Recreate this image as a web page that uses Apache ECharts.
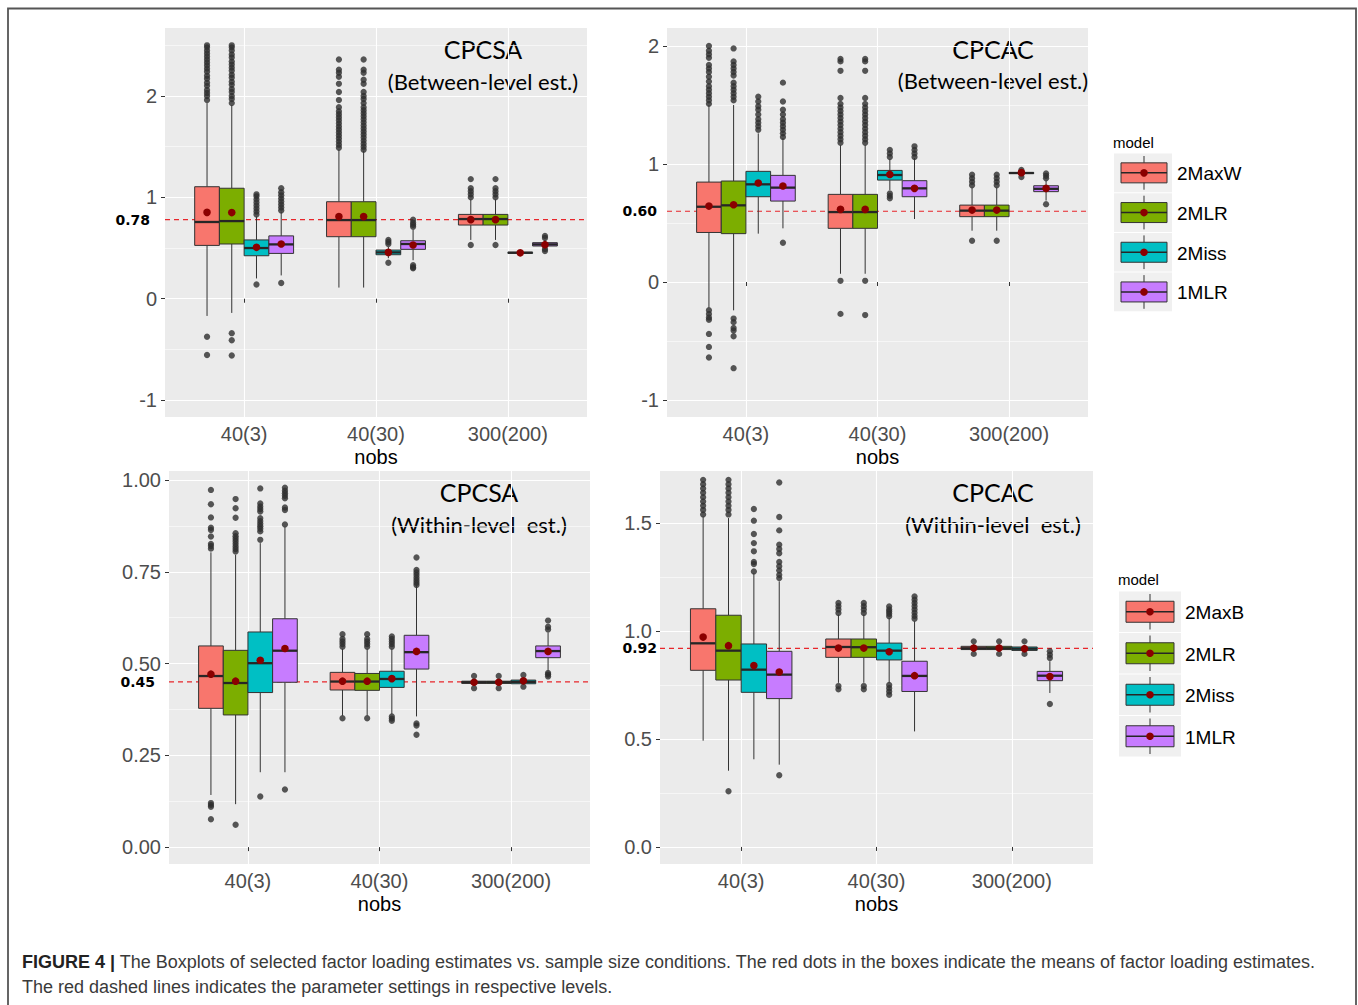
<!DOCTYPE html>
<html><head><meta charset="utf-8">
<script src="https://cdn.jsdelivr.net/npm/echarts@6/dist/echarts.min.js"></script>
<style>html,body{margin:0;padding:0;background:#fff}#c{width:1358px;height:1005px}</style>
</head><body><div id="c"></div>
<script>
// ---------------- DATA ----------------
const categories = ['40(3)', '40(30)', '300(200)'];
const modelsBetween = ['2MaxW', '2MLR', '2Miss', '1MLR'];
const modelsWithin = ['2MaxB', '2MLR', '2Miss', '1MLR'];
const panelTitles = ['CPCSA', 'CPCAC', 'CPCSA', 'CPCAC'];
const panelSubtitles = ['(Between-level est.)', '(Between-level est.)', '(Within-level  est.)', '(Within-level  est.)'];
const refValues = [0.78, 0.60, 0.45, 0.92];

// y-axis tick labels per panel
const yTicksP1 = [-1, 0, 1, 2];
const yTicksP2 = [-1, 0, 1, 2];
const yTicksP3 = [0, 0.25, 0.5, 0.75, 1];
const yTicksP4 = [0, 0.5, 1, 1.5];
const yMinorP1 = [-0.5, 0.5, 1.5, 2.5];
const yMinorP2 = [-0.5, 0.5, 1.5];
const yMinorP3 = [0.125, 0.375, 0.625, 0.875];
const yMinorP4 = [0.25, 0.75, 1.25];

// box stats per model (rows) per category: [lowWhisker, Q1, median, Q3, highWhisker, mean]
const statsP1 = [
  [[-0.17, 0.526, 0.757, 1.105, 1.93, 0.852], [0.11, 0.612, 0.776, 0.957, 1.47, 0.81], [0.58, 0.727, 0.786, 0.832, 0.98, 0.78]],
  [[-0.14, 0.54, 0.766, 1.09, 1.91, 0.85], [0.11, 0.612, 0.776, 0.957, 1.46, 0.81], [0.58, 0.727, 0.786, 0.832, 0.98, 0.78]],
  [[0.2, 0.424, 0.5, 0.58, 0.81, 0.507], [0.4, 0.434, 0.457, 0.48, 0.51, 0.457], [0.447, 0.45, 0.454, 0.458, 0.461, 0.453]],
  [[0.23, 0.447, 0.536, 0.62, 0.86, 0.54], [0.38, 0.487, 0.54, 0.572, 0.68, 0.53], [0.5, 0.52, 0.536, 0.553, 0.58, 0.533]]
];
const statsP2 = [
  [[-0.22, 0.42, 0.638, 0.847, 1.5, 0.644], [0.07, 0.455, 0.593, 0.743, 1.16, 0.616], [0.435, 0.554, 0.605, 0.652, 0.8, 0.61]],
  [[-0.24, 0.41, 0.65, 0.856, 1.5, 0.655], [0.07, 0.455, 0.593, 0.743, 1.16, 0.616], [0.435, 0.554, 0.605, 0.652, 0.8, 0.61]],
  [[0.41, 0.723, 0.828, 0.938, 1.26, 0.839], [0.78, 0.864, 0.907, 0.946, 1.04, 0.912], [0.91, 0.92, 0.924, 0.928, 0.94, 0.927]],
  [[0.455, 0.686, 0.8, 0.904, 1.22, 0.814], [0.534, 0.723, 0.794, 0.859, 1.05, 0.794], [0.69, 0.766, 0.79, 0.816, 0.86, 0.794]]
];
const statsP3 = [
  [[0.142, 0.378, 0.466, 0.548, 0.803, 0.471], [0.358, 0.428, 0.451, 0.476, 0.54, 0.452], [0.44, 0.446, 0.449, 0.452, 0.456, 0.449]],
  [[0.117, 0.36, 0.447, 0.536, 0.796, 0.452], [0.358, 0.427, 0.451, 0.473, 0.54, 0.452], [0.44, 0.446, 0.449, 0.452, 0.456, 0.449]],
  [[0.204, 0.421, 0.501, 0.586, 0.828, 0.509], [0.362, 0.435, 0.458, 0.479, 0.54, 0.459], [0.442, 0.445, 0.45, 0.455, 0.46, 0.453]],
  [[0.204, 0.449, 0.535, 0.622, 0.873, 0.541], [0.356, 0.485, 0.531, 0.577, 0.728, 0.533], [0.48, 0.516, 0.534, 0.548, 0.585, 0.533]]
];
const statsP4 = [
  [[0.492, 0.818, 0.943, 1.103, 1.531, 0.972], [0.76, 0.878, 0.926, 0.963, 1.076, 0.921], [0.905, 0.914, 0.92, 0.929, 0.94, 0.921]],
  [[0.353, 0.773, 0.909, 1.073, 1.523, 0.932], [0.76, 0.878, 0.925, 0.963, 1.076, 0.921], [0.905, 0.914, 0.92, 0.929, 0.94, 0.921]],
  [[0.406, 0.716, 0.821, 0.94, 1.268, 0.84], [0.76, 0.866, 0.909, 0.944, 1.06, 0.904], [0.9, 0.91, 0.918, 0.926, 0.935, 0.918]],
  [[0.381, 0.687, 0.798, 0.906, 1.23, 0.81], [0.535, 0.72, 0.792, 0.86, 1.045, 0.793], [0.713, 0.77, 0.793, 0.813, 0.86, 0.789]]
];

// outliers per model (rows) per category
const outliersP1 = [
  [[1.96, 2.0, 2.03, 2.06, 2.1, 2.13, 2.17, 2.2, 2.24, 2.27, 2.3, 2.33, 2.36, 2.39, 2.42, 2.45, 2.48, 2.5, -0.375, -0.555],
   [1.49, 1.52, 1.55, 1.58, 1.61, 1.64, 1.67, 1.7, 1.73, 1.76, 1.79, 1.82, 1.85, 1.89, 1.96, 2.04, 2.12, 2.19, 2.23, 2.26, 2.36],
   [1.0, 1.03, 1.06, 1.09, 1.18, 0.53]],
  [[1.93, 1.97, 2.0, 2.04, 2.07, 2.11, 2.14, 2.18, 2.21, 2.25, 2.28, 2.31, 2.34, 2.38, 2.41, 2.45, 2.48, 2.5, -0.34, -0.41, -0.56],
   [1.47, 1.5, 1.53, 1.56, 1.59, 1.62, 1.65, 1.68, 1.71, 1.74, 1.77, 1.8, 1.83, 1.86, 1.89, 1.93, 1.97, 2.0, 2.04, 2.12, 2.16, 2.23, 2.26, 2.36],
   [1.0, 1.03, 1.06, 1.09, 1.18, 0.53]],
  [[0.83, 0.86, 0.89, 0.92, 0.95, 0.98, 1.01, 1.03, 0.14],
   [0.54, 0.56, 0.58, 0.355],
   []],
  [[0.87, 0.9, 0.93, 0.96, 0.99, 1.02, 1.05, 1.09, 0.155],
   [0.71, 0.73, 0.75, 0.78, 0.3, 0.31, 0.33],
   [0.6, 0.62, 0.47, 0.49]]
];
const outliersP2 = [
  [[1.51, 1.54, 1.57, 1.6, 1.63, 1.66, 1.7, 1.74, 1.78, 1.81, 1.84, 1.9, 1.93, 1.96, 2.0, -0.24, -0.27, -0.3, -0.32, -0.44, -0.55, -0.64],
   [1.18, 1.21, 1.24, 1.27, 1.3, 1.33, 1.36, 1.39, 1.42, 1.45, 1.48, 1.51, 1.56, 1.79, 1.87, 1.89, 0.01, -0.27],
   [0.82, 0.85, 0.88, 0.91, 0.35]],
  [[1.54, 1.57, 1.6, 1.63, 1.66, 1.69, 1.75, 1.78, 1.81, 1.84, 1.87, 1.98, -0.31, -0.34, -0.39, -0.41, -0.46, -0.73],
   [1.18, 1.21, 1.24, 1.27, 1.3, 1.33, 1.36, 1.39, 1.42, 1.45, 1.48, 1.51, 1.56, 1.79, 1.87, 1.89, 0.01, -0.28],
   [0.82, 0.85, 0.88, 0.91, 0.35]],
  [[1.29, 1.32, 1.35, 1.38, 1.42, 1.46, 1.49, 1.53, 1.57],
   [1.06, 1.09, 1.12, 0.71, 0.73, 0.75],
   [0.89, 0.95]],
  [[1.23, 1.26, 1.29, 1.32, 1.35, 1.38, 1.42, 1.46, 1.53, 1.69, 0.333],
   [1.06, 1.09, 1.12, 1.15],
   [0.88, 0.9, 0.92, 0.66]]
];
const outliersP3 = [
  [[0.813, 0.82, 0.826, 0.846, 0.864, 0.87, 0.898, 0.934, 0.973, 0.11, 0.115, 0.12, 0.076],
   [0.546, 0.553, 0.56, 0.567, 0.58, 0.351],
   [0.433, 0.466]],
  [[0.805, 0.812, 0.819, 0.826, 0.833, 0.84, 0.847, 0.855, 0.897, 0.923, 0.948, 0.061],
   [0.546, 0.553, 0.56, 0.567, 0.58, 0.351],
   [0.433, 0.466]],
  [[0.837, 0.86, 0.867, 0.874, 0.881, 0.888, 0.896, 0.914, 0.921, 0.928, 0.936, 0.977, 0.138],
   [0.546, 0.553, 0.56, 0.567, 0.574, 0.344, 0.35, 0.356],
   [0.437, 0.469]],
  [[0.879, 0.918, 0.925, 0.95, 0.957, 0.964, 0.971, 0.979, 0.157],
   [0.714, 0.72, 0.727, 0.734, 0.741, 0.748, 0.755, 0.789, 0.331, 0.337, 0.306],
   [0.593, 0.6, 0.617, 0.465, 0.47, 0.474]]
];
const outliersP4 = [
  [[1.54, 1.56, 1.58, 1.6, 1.62, 1.64, 1.66, 1.68, 1.7],
   [1.083, 1.1, 1.115, 1.13, 0.73, 0.745],
   [0.894, 0.952]],
  [[1.54, 1.56, 1.58, 1.6, 1.62, 1.64, 1.66, 1.68, 1.7, 0.258],
   [1.083, 1.1, 1.115, 1.13, 0.73, 0.745],
   [0.894, 0.952]],
  [[1.276, 1.31, 1.32, 1.369, 1.407, 1.449, 1.511, 1.565],
   [1.068, 1.08, 1.09, 1.1, 1.114, 0.705, 0.72, 0.735, 0.75],
   [0.894, 0.952]],
  [[1.245, 1.26, 1.28, 1.3, 1.32, 1.36, 1.38, 1.4, 1.466, 1.528, 1.688, 0.332],
   [1.057, 1.07, 1.085, 1.1, 1.115, 1.13, 1.145, 1.16],
   [0.875, 0.89, 0.906, 0.662]]
];

// ---------------- LAYOUT / STYLE ----------------
const fillColors = ['#F8766D', '#7CAE00', '#00BFC4', '#C77CFF'];
const REF_RED = '#E8262B';
const X_MIN = 0.4, X_MAX = 3.6;
const panels = [
  {left: 165, top: 28, width: 422, height: 389, min: -1.167, max: 2.671, ticks: yTicksP1, minor: yMinorP1, fmt: v => String(v), stats: statsP1, out: outliersP1, refDist: 15},
  {left: 667, top: 28, width: 421, height: 389, min: -1.144, max: 2.153, ticks: yTicksP2, minor: yMinorP2, fmt: v => String(v), stats: statsP2, out: outliersP2, refDist: 10},
  {left: 169, top: 471, width: 421, height: 393, min: -0.046, max: 1.0245, ticks: yTicksP3, minor: yMinorP3, fmt: v => v.toFixed(2), stats: statsP3, out: outliersP3, refDist: 14},
  {left: 660, top: 471, width: 433, height: 393, min: -0.079, max: 1.741, ticks: yTicksP4, minor: yMinorP4, fmt: v => v.toFixed(1), stats: statsP4, out: outliersP4, refDist: 3}
];
const DODGE_W = 0.75;
const BOX_W = DODGE_W / 4;
const dodge = m => -DODGE_W / 2 + BOX_W * (m + 0.5);
const LABEL_FONT = 'Liberation Sans, Arial, sans-serif';

const grids = [], xAxes = [], yAxes = [], series = [];
panels.forEach((p, pi) => {
  grids.push({left: p.left, top: p.top, width: p.width, height: p.height, show: true,
    backgroundColor: '#EBEBEB', borderWidth: 0, outerBoundsMode: 'none', containLabel: false});
  xAxes.push({type: 'value', gridIndex: pi, min: X_MIN, max: X_MAX,
    axisLine: {show: false},
    axisTick: {show: true, customValues: [1, 2, 3], length: 4, lineStyle: {color: '#333', width: 1}},
    axisLabel: {show: true, customValues: [1, 2, 3], formatter: v => categories[Math.round(v) - 1],
      color: '#4D4D4D', fontSize: 20, fontFamily: LABEL_FONT, margin: 7},
    splitLine: {show: true, lineStyle: {color: '#FFFFFF', width: 1.1}},
    name: 'nobs', nameLocation: 'middle', nameGap: 30,
    nameTextStyle: {color: '#000', fontSize: 20, fontFamily: LABEL_FONT}
  });
  yAxes.push({type: 'value', gridIndex: pi, min: p.min, max: p.max, position: 'left',
    axisLine: {show: false},
    axisTick: {show: true, customValues: p.ticks, length: 4, lineStyle: {color: '#333', width: 1}},
    axisLabel: {show: true, customValues: p.ticks, formatter: v => p.fmt(v),
      color: '#4D4D4D', fontSize: 20, fontFamily: LABEL_FONT, margin: 8},
    splitLine: {show: true, lineStyle: {color: '#FFFFFF', width: 1.1}}
  });
  yAxes.push({type: 'value', gridIndex: pi, min: p.min, max: p.max, position: 'left',
    axisLine: {show: false},
    axisTick: {show: false, customValues: p.minor},
    axisLabel: {show: false, customValues: p.minor},
    splitLine: {show: true, lineStyle: {color: '#FAFAFA', width: 0.7}}
  });
  // reference (parameter setting) dashed line across the panel, labelled at its left end
  series.push({type: 'line', name: 'ref' + pi, xAxisIndex: pi, yAxisIndex: pi * 2,
    data: [[X_MIN, refValues[pi]], [X_MAX, refValues[pi]]],
    symbol: 'none', silent: true, z: 2, animation: false,
    lineStyle: {color: REF_RED, type: [5, 4], width: 1.2, opacity: 1},
    itemStyle: {color: REF_RED},
    emphasis: {disabled: true},
    markPoint: {silent: true, animation: false, symbol: 'circle', symbolSize: 0,
      data: [{coord: [X_MIN, refValues[pi]], value: refValues[pi]}],
      itemStyle: {color: 'rgba(0,0,0,0)'},
      label: {show: true, position: 'left', formatter: refValues[pi].toFixed(2), distance: p.refDist,
        color: '#000', fontWeight: 'bold', fontSize: 14, fontFamily: 'DejaVu Sans, Verdana, sans-serif'}}
  });
  const models = pi < 2 ? modelsBetween : modelsWithin;
  models.forEach((name, m) => {
    // outliers
    const pts = [];
    p.out[m].forEach((vals, ci) => vals.forEach(v => pts.push([ci + 1 + dodge(m), v])));
    series.push({type: 'scatter', name: name, xAxisIndex: pi, yAxisIndex: pi * 2, data: pts,
      symbolSize: 6.3, itemStyle: {color: '#2E2E2E'}, silent: true, z: 3});
    // boxes
    series.push({type: 'custom', name: name, xAxisIndex: pi, yAxisIndex: pi * 2, z: 4, silent: true,
      data: p.stats[m].map((s, ci) => [ci].concat(s)),
      encode: {x: 0, y: [1, 5]},
      renderItem: function (params, api) {
        const xc = api.value(0) + 1 + dodge(m);
        const lo = api.value(1), q1 = api.value(2), med = api.value(3), q3 = api.value(4), hi = api.value(5), mean = api.value(6);
        const tl = api.coord([xc - BOX_W / 2, q3]);
        const br = api.coord([xc + BOX_W / 2, q1]);
        const cHi = api.coord([xc, hi]), cQ3 = api.coord([xc, q3]), cQ1 = api.coord([xc, q1]), cLo = api.coord([xc, lo]);
        const cMed = api.coord([xc, med]), cMean = api.coord([xc, mean]);
        const ls = {stroke: '#333333', lineWidth: 1};
        return {type: 'group', children: [
          {type: 'line', shape: {x1: cHi[0], y1: cHi[1], x2: cQ3[0], y2: cQ3[1]}, style: ls},
          {type: 'line', shape: {x1: cQ1[0], y1: cQ1[1], x2: cLo[0], y2: cLo[1]}, style: ls},
          {type: 'rect', shape: {x: tl[0], y: tl[1], width: br[0] - tl[0], height: Math.max(br[1] - tl[1], 1)},
            style: {fill: fillColors[m], stroke: '#333333', lineWidth: 1}},
          {type: 'line', shape: {x1: tl[0], y1: cMed[1], x2: br[0], y2: cMed[1]}, style: {stroke: '#262626', lineWidth: 2.3}},
          {type: 'circle', shape: {cx: cMean[0], cy: cMean[1], r: 3.8}, style: {fill: '#8B0000'}}
        ]};
      }
    });
  });
});

// ---------------- GRAPHIC (titles, legends, caption, frame) ----------------
const graphic = [];
graphic.push({type: 'polyline', silent: true, shape: {points: [[8, 1010], [8, 8.5], [1356, 8.5], [1356, 1010]]},
  style: {stroke: '#555', lineWidth: 1.8, fill: null}});
const titlePos = [[483, 49, 81], [993, 49, 80], [479, 492, 524], [993, 492, 524]];
titlePos.forEach((t, i) => {
  graphic.push({type: 'text', x: t[0], y: t[1], silent: true, style: {text: panelTitles[i], fill: '#000',
    font: '25px Lato, "Open Sans", sans-serif', textAlign: 'center', textVerticalAlign: 'middle'}});
  graphic.push({type: 'text', x: t[0], y: t[2], silent: true, style: {text: panelSubtitles[i], fill: '#000',
    font: '22px Lato, "Open Sans", sans-serif', textAlign: 'center', textVerticalAlign: 'middle'}});
});
function addLegend(models, cfg) {
  graphic.push({type: 'text', x: cfg.titleX, y: cfg.titleY, silent: true, style: {text: 'model', fill: '#000',
    font: '15px ' + LABEL_FONT, textVerticalAlign: 'middle'}});
  models.forEach((name, m) => {
    const y0 = cfg.y0 + m * cfg.rowH;
    const cy = y0 + cfg.rowH / 2;
    const cx = cfg.boxX + cfg.boxW / 2;
    graphic.push({type: 'rect', silent: true, shape: {x: cfg.keyX, y: y0 + 0.5, width: cfg.keyW, height: cfg.rowH - 1}, style: {fill: '#F0F0F0'}});
    graphic.push({type: 'line', silent: true, shape: {x1: cx, y1: y0 + 3, x2: cx, y2: y0 + cfg.rowH - 3}, style: {stroke: '#333', lineWidth: 1}});
    graphic.push({type: 'rect', silent: true, shape: {x: cfg.boxX, y: cy - cfg.boxH / 2, width: cfg.boxW, height: cfg.boxH}, style: {fill: fillColors[m], stroke: '#333', lineWidth: 1}});
    graphic.push({type: 'line', silent: true, shape: {x1: cfg.boxX, y1: cy, x2: cfg.boxX + cfg.boxW, y2: cy}, style: {stroke: '#262626', lineWidth: 1.5}});
    graphic.push({type: 'circle', silent: true, shape: {cx: cx, cy: cy, r: 3.8}, style: {fill: '#8B0000'}});
    graphic.push({type: 'text', silent: true, x: cfg.labelX, y: cy + 1, style: {text: name, fill: '#000',
      font: '19px ' + LABEL_FONT, textVerticalAlign: 'middle'}});
  });
}
addLegend(modelsBetween, {titleX: 1113, titleY: 142, y0: 153, rowH: 39.7, keyX: 1114, keyW: 58, boxX: 1121, boxW: 46, boxH: 20, labelX: 1177});
addLegend(modelsWithin, {titleX: 1118, titleY: 579, y0: 591, rowH: 41.5, keyX: 1119, keyW: 62, boxX: 1126, boxW: 48, boxH: 21, labelX: 1185});

graphic.push({type: 'text', x: 22, y: 962, silent: true, style: {
  text: '{b|FIGURE 4 |} The Boxplots of selected factor loading estimates vs. sample size conditions. The red dots in the boxes indicate the means of factor loading estimates.',
  font: '18px ' + LABEL_FONT, fill: '#3a3a3a', textVerticalAlign: 'middle',
  rich: {b: {fontWeight: 'bold', fontSize: 18, fontFamily: LABEL_FONT, fill: '#222'}}}});
graphic.push({type: 'text', x: 22, y: 987, silent: true, style: {
  text: 'The red dashed lines indicates the parameter settings in respective levels.',
  font: '18px ' + LABEL_FONT, fill: '#3a3a3a', textVerticalAlign: 'middle'}});

const chart = echarts.init(document.getElementById('c'), null, {renderer: 'svg'});
chart.setOption({
  animation: false,
  backgroundColor: '#FFFFFF',
  grid: grids, xAxis: xAxes, yAxis: yAxes, series: series, graphic: graphic,
  tooltip: {show: false}
});
</script></body></html>
